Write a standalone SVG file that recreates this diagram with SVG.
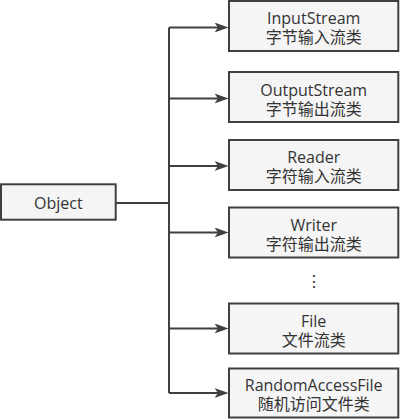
<svg xmlns="http://www.w3.org/2000/svg" width="400" height="419" viewBox="0 0 400 419">
<defs>
<style>
.box{fill:#f5f5f5;stroke:#404040;stroke-width:2}
.t{font-family:"Open Sans","Noto Sans CJK SC",sans-serif;font-size:16px;fill:#333333;text-anchor:middle}
.c{font-family:"Noto Sans CJK SC","Open Sans",sans-serif}
.ln{fill:none;stroke:#404040;stroke-width:2}
</style>
<marker id="arr" markerUnits="userSpaceOnUse" viewBox="0 0 14 10" refX="3.5" refY="5" markerWidth="14" markerHeight="10" orient="auto">
<path d="M0,0 L14,5 L0,10 L3.5,5 Z" fill="#404040"/>
</marker>
</defs>
<rect width="400" height="419" fill="#ffffff"/>
<g id="connectors">
<path class="ln" d="M115.7,203 H169"/>
<path class="ln" d="M169,27.5 V393"/>
<path class="ln" d="M169,27.5 H218" marker-end="url(#arr)"/>
<path class="ln" d="M169,98.5 H218" marker-end="url(#arr)"/>
<path class="ln" d="M169,166 H218" marker-end="url(#arr)"/>
<path class="ln" d="M169,232.5 H218" marker-end="url(#arr)"/>
<path class="ln" d="M169,328.5 H218" marker-end="url(#arr)"/>
<path class="ln" d="M169,393 H218" marker-end="url(#arr)"/>
</g>
<g id="object">
<rect class="box" x="1" y="184.3" width="114.7" height="35.4"/>
<text class="t" x="58.3" y="208.5">Object</text>
</g>
<g id="inputstream">
<rect class="box" x="229" y="1" width="169.3" height="50"/>
<text class="t" x="313.7" y="24">InputStream<tspan class="c" x="313.7" dy="19">字节输入流类</tspan></text>
</g>
<g id="outputstream">
<rect class="box" x="229" y="72" width="169.3" height="50"/>
<text class="t" x="313.7" y="95.5">OutputStream<tspan class="c" x="313.7" dy="19">字节输出流类</tspan></text>
</g>
<g id="reader">
<rect class="box" x="229" y="140" width="169.3" height="50"/>
<text class="t" x="313.7" y="163">Reader<tspan class="c" x="313.7" dy="19">字符输入流类</tspan></text>
</g>
<g id="writer">
<rect class="box" x="229" y="207.5" width="169.3" height="50"/>
<text class="t" x="313.7" y="230.5">Writer<tspan class="c" x="313.7" dy="19">字符输出流类</tspan></text>
</g>
<g id="ellipsis">
<text class="t" x="314" y="287">⋮</text>
</g>
<g id="file">
<rect class="box" x="229" y="303.5" width="169.3" height="50"/>
<text class="t" x="313.7" y="326.5">File<tspan class="c" x="313.7" dy="19">文件流类</tspan></text>
</g>
<g id="randomaccessfile">
<rect class="box" x="229" y="368.5" width="169.3" height="49"/>
<text class="t" x="313.7" y="391">RandomAccessFile<tspan class="c" x="313.7" dy="19">随机访问文件类</tspan></text>
</g>
</svg>
